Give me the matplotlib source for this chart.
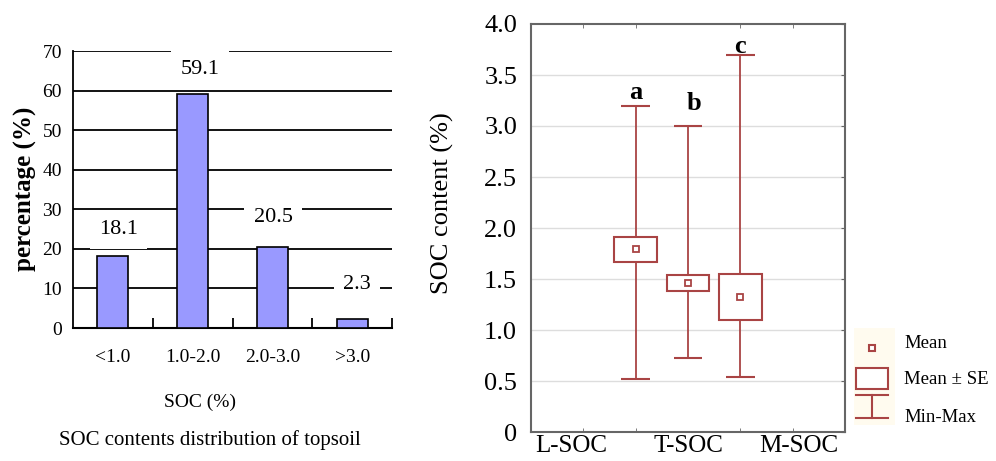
import matplotlib
matplotlib.use("Agg")
import matplotlib.pyplot as plt
from matplotlib.patches import Rectangle

# ---- data: left bar chart ----
bar_categories = ["<1.0", "1.0-2.0", "2.0-3.0", ">3.0"]
bar_values = [18.1, 59.1, 20.5, 2.3]
bar_yticks = [0, 10, 20, 30, 40, 50, 60, 70]

# ---- data: right box chart ----
groups = ["L-SOC", "T-SOC", "M-SOC"]
group_pos = [2, 3, 4]
means = [1.79, 1.46, 1.32]
ses = [0.12, 0.075, 0.225]
mins = [0.52, 0.73, 0.54]
maxs = [3.20, 3.00, 3.70]
letters = ["a", "b", "c"]
letter_y = [3.33, 3.22, 3.78]
box_yticks = [0, 0.5, 1.0, 1.5, 2.0, 2.5, 3.0, 3.5, 4.0]
box_yticklabels = ["0", "0.5", "1.0", "1.5", "2.0", "2.5", "3.0", "3.5", "4.0"]

SERIF = "Liberation Serif"
RED = "#A94444"
W, H = 996, 461
fig = plt.figure(figsize=(W / 100, H / 100), dpi=100)

def fx(px):
    return px / W

def fy(py):
    return 1 - py / H

# ---------------- left chart ----------------
ax1 = fig.add_axes([fx(73), fy(328), (392 - 73) / W, (328 - 51) / H])
x = list(range(len(bar_categories)))
ax1.set_xlim(-0.5, 3.5)
ax1.set_ylim(0, 70)
for v in bar_yticks[1:]:
    ax1.axhline(v, color="black", lw=1.3, zorder=1)
ax1.bar(x, bar_values, width=0.39, color="#9999FF", edgecolor="black",
        linewidth=1.2, zorder=3)
label_dx = [0.07, 0.09, 0.01, 0.06]
label_dy = [6.7, 6.1, 7.5, 8.6]
for xi, v, dx, dy in zip(x, bar_values, label_dx, label_dy):
    ax1.text(xi + dx, v + dy, f"{v:.1f}", ha="center", va="center",
             fontsize=16, family=SERIF, zorder=5,
             bbox=dict(boxstyle="square,pad=0.42", fc="white", ec="none"))
for s in ["top", "right"]:
    ax1.spines[s].set_visible(False)
ax1.spines["left"].set_linewidth(1.3)
ax1.spines["bottom"].set_linewidth(1.5)
ax1.set_yticks(bar_yticks)
ax1.set_yticklabels([str(t) for t in bar_yticks], family=SERIF, fontsize=14)
ax1.set_xticks(x)
ax1.set_xticklabels(bar_categories, family=SERIF, fontsize=14)
ax1.set_xticks([0.5, 1.5, 2.5, 3.5], minor=True)
ax1.tick_params(axis="y", length=0, pad=8)
ax1.tick_params(axis="x", which="major", length=0, pad=15)
ax1.tick_params(axis="x", which="minor", direction="in", length=7, width=1.3)
fig.text(fx(25), fy(189), "percentage (%)", rotation=90, ha="center",
         va="center", family=SERIF, fontsize=18, fontweight="bold")
fig.text(fx(200), fy(402), "SOC (%)", ha="center", va="center",
         family=SERIF, fontsize=14)
fig.text(fx(210), fy(440), "SOC contents distribution of topsoil",
         ha="center", va="center", family=SERIF, fontsize=15)

# ---------------- right chart ----------------
ax2 = fig.add_axes([fx(531), fy(432), (845 - 531) / W, (432 - 24) / H])
ax2.set_xlim(0, 6)
ax2.set_ylim(0, 4)
for v in box_yticks[1:-1]:
    ax2.axhline(v, color="#DDDDDD", lw=1.0, zorder=1)
cap_w = 0.55
box_w = 0.81
for p, m, se, lo, hi in zip(group_pos, means, ses, mins, maxs):
    ax2.vlines(p, lo, hi, color=RED, lw=1.3, zorder=2)
    ax2.hlines([lo, hi], p - cap_w / 2, p + cap_w / 2, color=RED, lw=1.5, zorder=2)
    ax2.add_patch(Rectangle((p - box_w / 2, m - se), box_w, 2 * se,
                            fc="white", ec=RED, lw=1.5, zorder=3))
    ax2.plot(p, m, marker="s", ms=4, mfc="white", mec=RED, mew=1.3, zorder=4)
for p, t, ly in zip(group_pos, letters, letter_y):
    dx = 0.12 if t == "b" else 0.0
    ax2.text(p + dx, ly, t, ha="center", va="center", family=SERIF,
             fontsize=19, fontweight="bold")
for s in ax2.spines.values():
    s.set_color("#666666")
    s.set_linewidth(1.5)
ax2.set_yticks(box_yticks)
ax2.set_yticklabels(box_yticklabels, family=SERIF, fontsize=19)
ax2.set_xticks([0.77, 3.0, 5.12])
ax2.set_xticklabels(groups, family=SERIF, fontsize=18)
ax2.set_xticks([1, 2, 3, 4, 5], minor=True)
ax2.tick_params(axis="x", which="major", length=0, pad=2.5)
ax2.tick_params(axis="x", which="minor", direction="in", length=3,
                color="#666666", top=True)
ax2.tick_params(axis="y", direction="in", length=3, color="#666666",
                left=False, right=True, pad=10)
fig.text(fx(442), fy(203), "SOC content (%)", rotation=90, ha="center",
         va="center", family=SERIF, fontsize=19)

# ---------------- legend ----------------
axl = fig.add_axes([fx(852), fy(430), (996 - 852) / W, (430 - 326) / H])
axl.set_xlim(852, 996)
axl.set_ylim(430, 326)
axl.axis("off")
axl.add_patch(Rectangle((854, 328), 41, 97, fc="#FFFBEF", ec="none", zorder=0))
axl.plot(872, 348, marker="s", ms=5, mfc="white", mec=RED, mew=1.5)
axl.add_patch(Rectangle((856, 368), 32, 21, fc="white", ec=RED, lw=1.5))
axl.plot([856, 888], [395, 395], color=RED, lw=1.5)
axl.plot([872, 872], [395, 418], color=RED, lw=1.5)
axl.plot([856, 888], [418, 418], color=RED, lw=1.5)
for ty, t in zip([343, 380, 417], ["Mean", "Mean \u00b1 SE", "Min-Max"]):
    axl.text(904, ty, t, ha="left", va="center", family=SERIF, fontsize=13.5)

fig.savefig("out.png", dpi=100)
